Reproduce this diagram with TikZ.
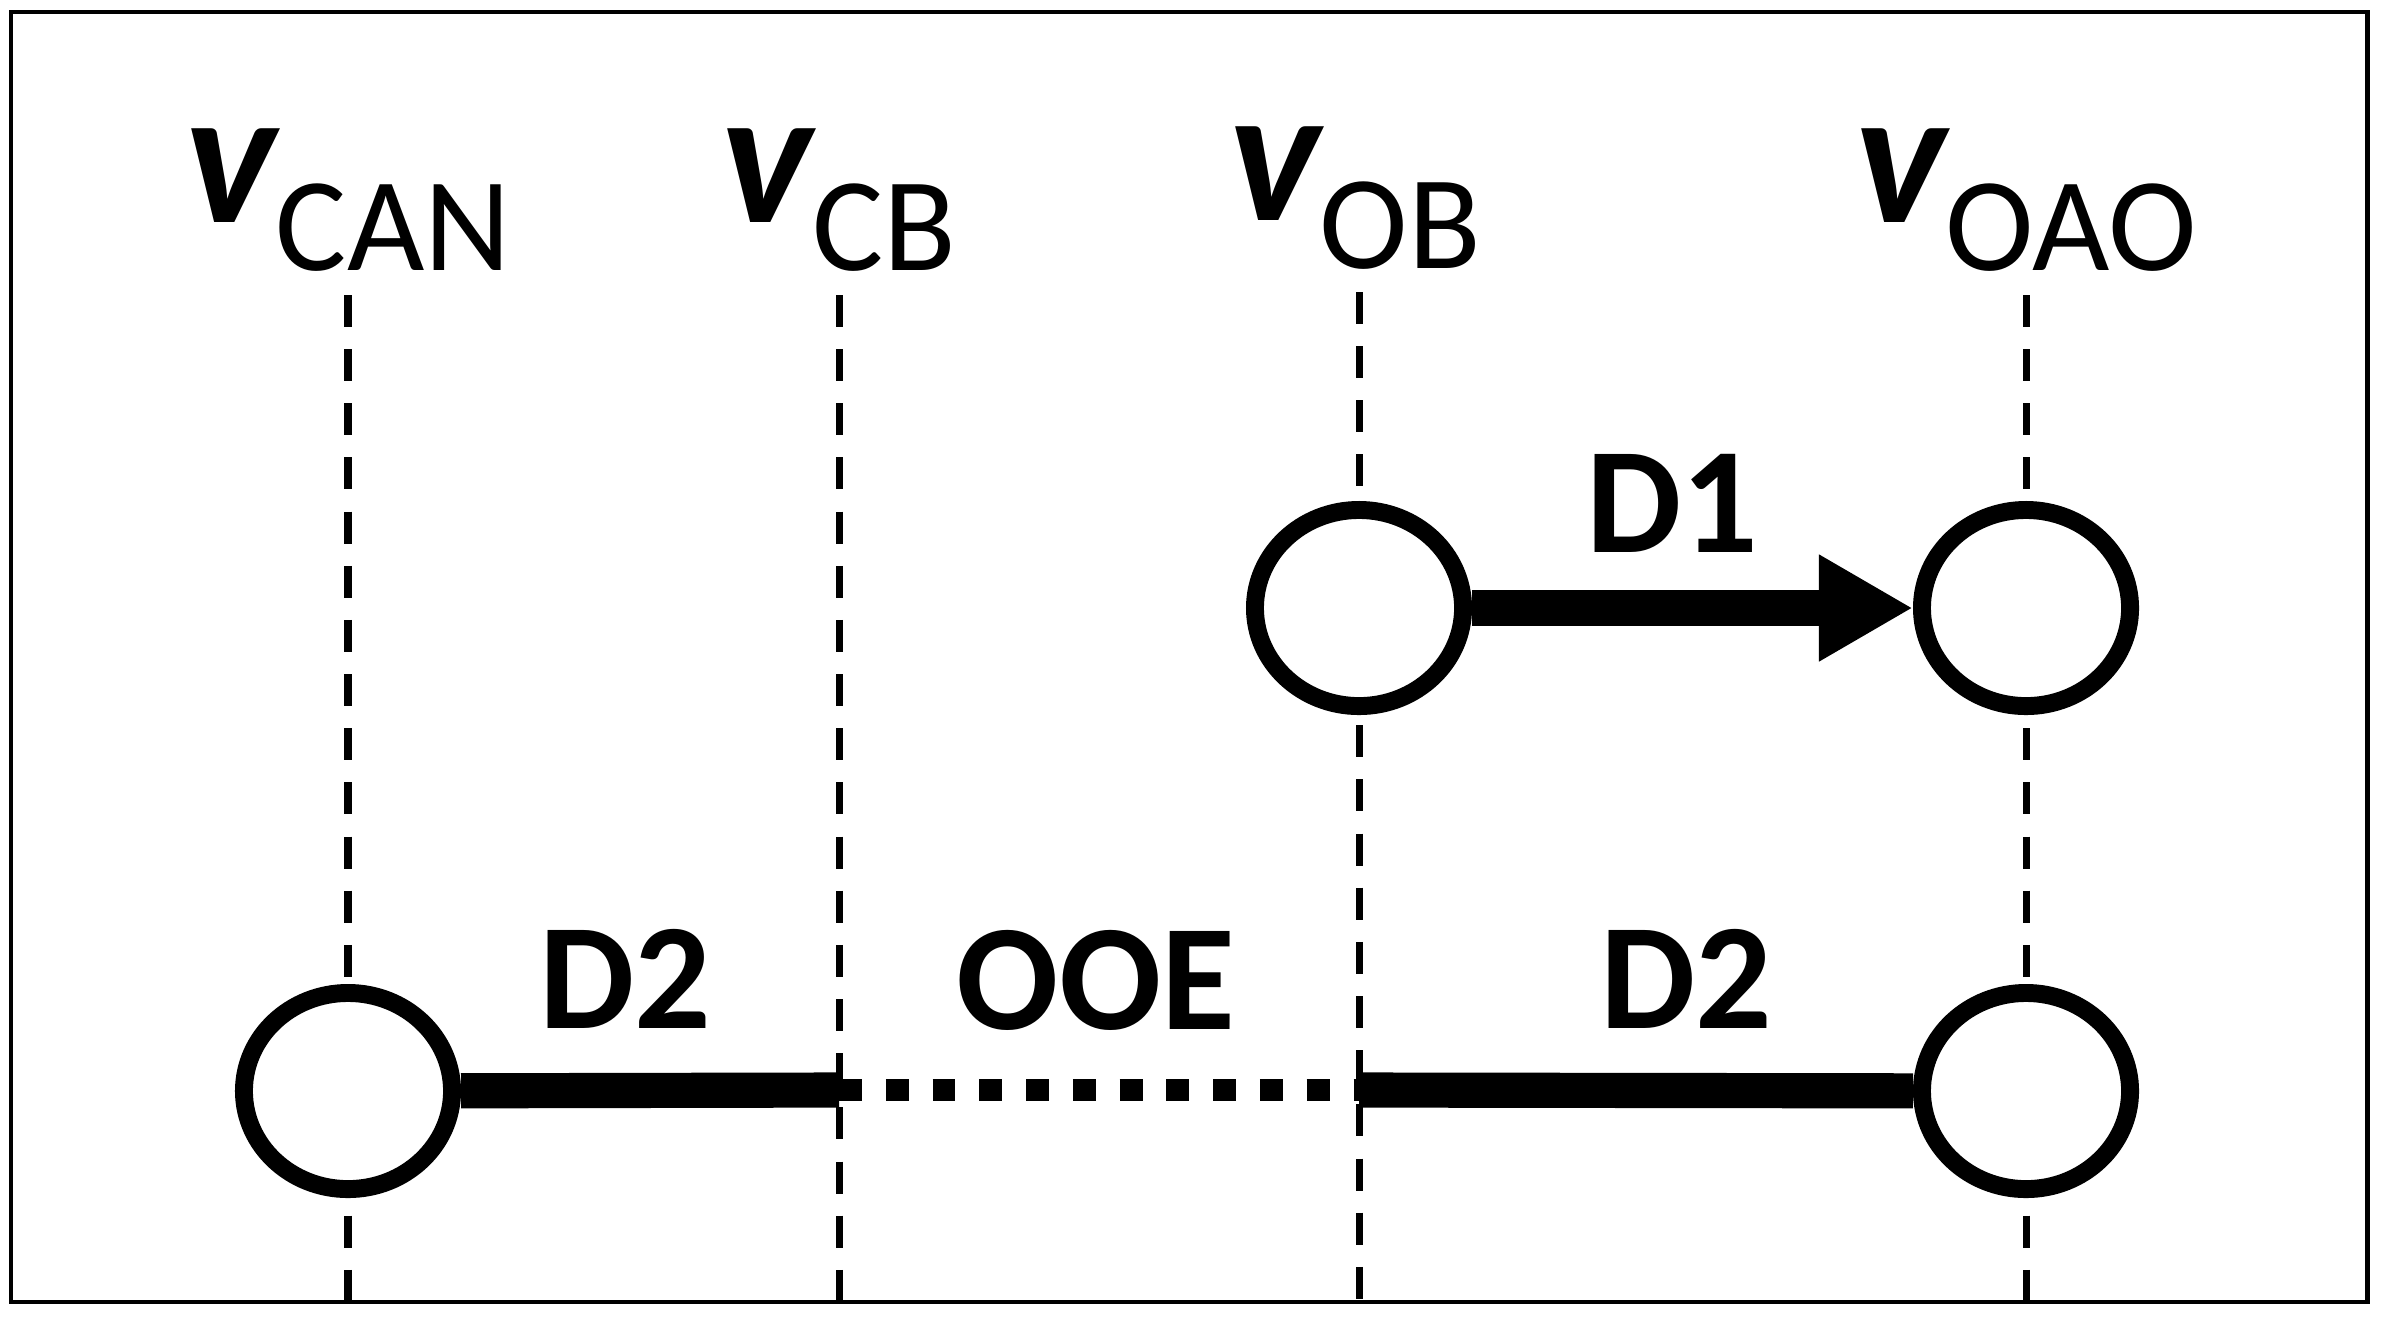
\documentclass[tikz,border=0pt]{standalone}
\usepackage{fontspec}
\setmainfont{Carlito}
\usetikzlibrary{shapes.geometric,arrows.meta}

\tikzset{
  state/.style = {ellipse, draw, line width=5.1pt, fill=white, inner sep=0pt,
                  minimum width=2.08cm, minimum height=1.96cm},
  guide/.style = {line width=2pt, dash pattern=on 9.1pt off 6.3pt},
  thickline/.style = {line width=10pt},
  dotline/.style = {line width=6.5pt, dash pattern=on 6.5pt off 6.8pt},
  lbl/.style = {anchor=base, inner sep=0pt, font=\fontsize{43}{45}\selectfont\bfseries}
}
\newcommand{\vlab}[1]{{\fontsize{55}{60}\selectfont\bfseries\itshape v}\raisebox{-0.48cm}{\fontsize{38}{40}\selectfont #1}}

\begin{document}
\begin{tikzpicture}[x=0.01cm, y=-0.01cm]

\useasboundingbox (0,0) rectangle (2383,1317);
\draw [line width=1.4pt] (11,12) rectangle (2367,1302);

\coordinate (cantop) at (348,295);
\coordinate (canbot) at (348,1300);
\coordinate (cbtop) at (839,295);
\coordinate (cbbot) at (839,1300);
\coordinate (obtop) at (1359,292);
\coordinate (obbot) at (1359,1300);
\coordinate (oaotop) at (2026,295);
\coordinate (oaobot) at (2026,1300);

\draw [guide] (cantop) -- (canbot);
\draw [guide] (cbtop) -- (cbbot);
\draw [guide] (obtop) -- (obbot);
\draw [guide] (oaotop) -- (oaobot);

\node [anchor=base, inner sep=0pt] (vcan) at (348,222) {\vlab{CAN}};
\node [anchor=base, inner sep=0pt] (vcb) at (839,222) {\vlab{CB}};
\node [anchor=base, inner sep=0pt] (vob) at (1355,220) {\vlab{OB}};
\node [anchor=base, inner sep=0pt] (voao) at (2026,222) {\vlab{OAO}};

\node [state] (ob1) at (1359,608) {};
\node [state] (oao1) at (2026,608) {};
\node [state] (can2) at (348,1091) {};
\node [state] (oao2) at (2026,1091) {};

\draw [thickline, -{Triangle[length=0.94cm, width=1cm]}] (ob1) -- (oao1);

\coordinate (cbmid) at (839,1090);
\coordinate (obmid) at (1359,1090);
\draw [thickline] (can2) -- (cbmid);
\draw [dotline] (cbmid) -- (obmid);
\draw [thickline] (obmid) -- (oao2);

\node [lbl] (d1) at (1672,552) {D1};
\node [lbl] (d2a) at (625,1028) {D2};
\node [lbl] (ooe) at (1096,1029) {OOE};
\node [lbl] (d2b) at (1686,1028) {D2};

\end{tikzpicture}
\end{document}
